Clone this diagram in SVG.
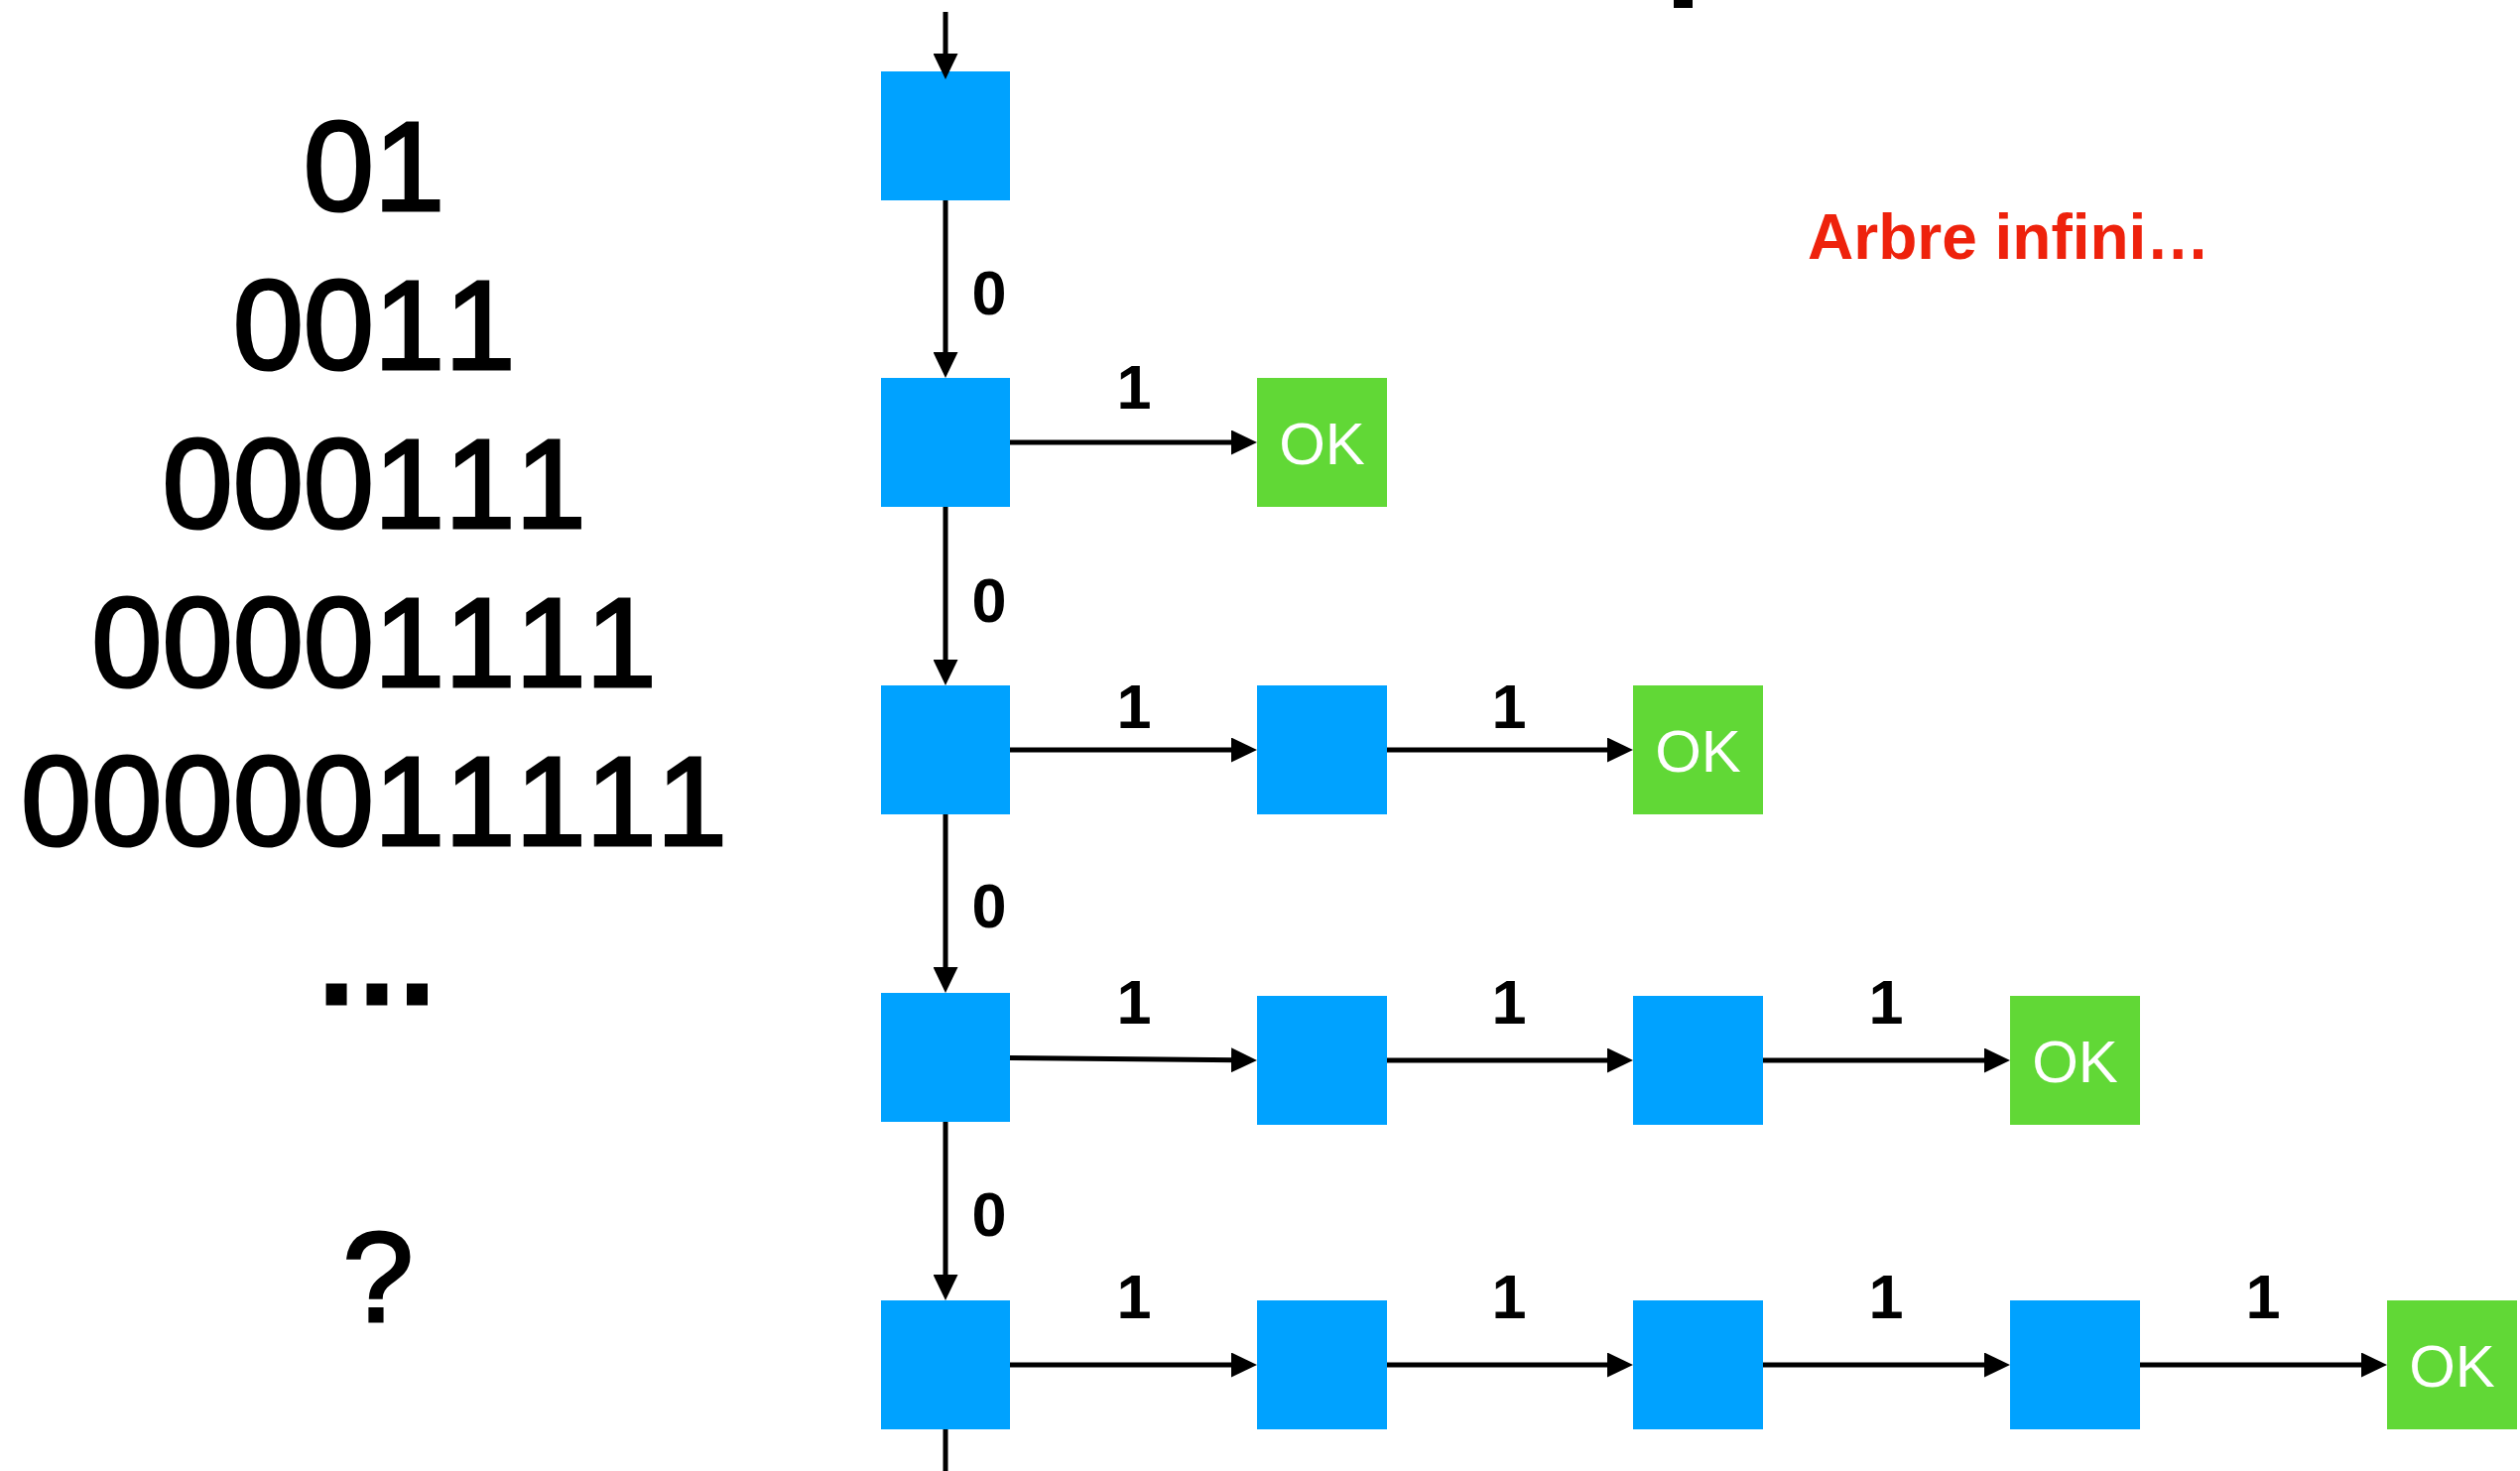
<svg xmlns="http://www.w3.org/2000/svg" width="2540" height="1483" viewBox="0 0 2540 1483">
  <style>
    text { font-kerning: none; }
    .state { fill: #00A2FF; }
    .ok { fill: #61D836; }
    .ok-text { font-family: "Liberation Sans", Arial, sans-serif; font-size: 60px; fill: #FFFFFF; text-anchor: middle; }
    .edge { stroke: #000000; stroke-width: 5; fill: none; }
    .edge-label { font-family: "Liberation Sans", Arial, sans-serif; font-size: 63px; font-weight: bold; fill: #000000; text-anchor: middle; }
    .word { font-family: "Liberation Sans", Arial, sans-serif; font-size: 128px; fill: #000000; stroke: #000000; stroke-width: 3; text-anchor: middle; }
    .note { font-family: "Liberation Sans", Arial, sans-serif; font-size: 64px; font-weight: bold; fill: #EE220C; }
  </style>
  <defs>
    <marker id="arrow" markerUnits="userSpaceOnUse" markerWidth="26" markerHeight="25" refX="6" refY="12.5" orient="auto">
      <path d="M0,0 L26,12.5 L0,25 Z" fill="#000000"/>
    </marker>
  </defs>

  <rect width="2540" height="1483" fill="#FFFFFF"/>

  <!-- cut-off mark at the top edge -->
  <rect x="1687" y="0" width="19" height="8" fill="#000000"/>

  <!-- words of the language -->
  <g id="words">
    <text class="word" x="377" y="212">01</text>
    <text class="word" x="377" y="372">0011</text>
    <text class="word" x="377" y="532">000111</text>
    <text class="word" x="377" y="692">00001111</text>
    <text class="word" x="377" y="852">0000011111</text>
    <text class="word" x="380" y="1012" font-weight="bold" stroke-width="1">…</text>
    <text class="word" x="381" y="1332" stroke-width="4">?</text>
  </g>

  <text id="note" class="note" x="1822" y="261">Arbre infini…</text>

  <!-- states -->
  <g id="s0"><rect class="state" x="888" y="72" width="130" height="130"/></g>

  <g id="s1"><rect class="state" x="888" y="381" width="130" height="130"/></g>
  <g id="ok1"><rect class="ok" x="1267" y="381" width="131" height="130"/><text class="ok-text" x="1332.5" y="468">OK</text></g>

  <g id="s2"><rect class="state" x="888" y="691" width="130" height="130"/></g>
  <g id="s2b"><rect class="state" x="1267" y="691" width="131" height="130"/></g>
  <g id="ok2"><rect class="ok" x="1646" y="691" width="131" height="130"/><text class="ok-text" x="1711.5" y="778">OK</text></g>

  <g id="s3"><rect class="state" x="888" y="1001" width="130" height="130"/></g>
  <g id="s3b"><rect class="state" x="1267" y="1004" width="131" height="130"/></g>
  <g id="s3c"><rect class="state" x="1646" y="1004" width="131" height="130"/></g>
  <g id="ok3"><rect class="ok" x="2026" y="1004" width="131" height="130"/><text class="ok-text" x="2091.5" y="1091">OK</text></g>

  <g id="s4"><rect class="state" x="888" y="1311" width="130" height="130"/></g>
  <g id="s4b"><rect class="state" x="1267" y="1311" width="131" height="130"/></g>
  <g id="s4c"><rect class="state" x="1646" y="1311" width="131" height="130"/></g>
  <g id="s4d"><rect class="state" x="2026" y="1311" width="131" height="130"/></g>
  <g id="ok4"><rect class="ok" x="2406" y="1311" width="131" height="130"/><text class="ok-text" x="2471.5" y="1398">OK</text></g>

  <!-- transitions -->
  <g id="edges">
    <!-- spine of 0-transitions -->
    <line class="edge" x1="953" y1="12" x2="953" y2="60" marker-end="url(#arrow)"/>
    <line class="edge" x1="953" y1="202" x2="953" y2="361" marker-end="url(#arrow)"/>
    <line class="edge" x1="953" y1="511" x2="953" y2="671" marker-end="url(#arrow)"/>
    <line class="edge" x1="953" y1="821" x2="953" y2="981" marker-end="url(#arrow)"/>
    <line class="edge" x1="953" y1="1131" x2="953" y2="1291" marker-end="url(#arrow)"/>
    <line class="edge" x1="953" y1="1441" x2="953" y2="1483"/>

    <!-- 1-transitions -->
    <line class="edge" x1="1018" y1="446" x2="1247" y2="446" marker-end="url(#arrow)"/>

    <line class="edge" x1="1018" y1="756" x2="1247" y2="756" marker-end="url(#arrow)"/>
    <line class="edge" x1="1398" y1="756" x2="1626" y2="756" marker-end="url(#arrow)"/>

    <line class="edge" x1="1018" y1="1066.5" x2="1247" y2="1068.8" marker-end="url(#arrow)"/>
    <line class="edge" x1="1398" y1="1069" x2="1626" y2="1069" marker-end="url(#arrow)"/>
    <line class="edge" x1="1777" y1="1069" x2="2006" y2="1069" marker-end="url(#arrow)"/>

    <line class="edge" x1="1018" y1="1376" x2="1247" y2="1376" marker-end="url(#arrow)"/>
    <line class="edge" x1="1398" y1="1376" x2="1626" y2="1376" marker-end="url(#arrow)"/>
    <line class="edge" x1="1777" y1="1376" x2="2006" y2="1376" marker-end="url(#arrow)"/>
    <line class="edge" x1="2157" y1="1376" x2="2386" y2="1376" marker-end="url(#arrow)"/>

    <!-- labels -->
    <text class="edge-label" x="997" y="317">0</text>
    <text class="edge-label" x="997" y="627">0</text>
    <text class="edge-label" x="997" y="935">0</text>
    <text class="edge-label" x="997" y="1246">0</text>

    <text class="edge-label" x="1143" y="412">1</text>

    <text class="edge-label" x="1143" y="734">1</text>
    <text class="edge-label" x="1521" y="734">1</text>

    <text class="edge-label" x="1143" y="1032">1</text>
    <text class="edge-label" x="1521" y="1032">1</text>
    <text class="edge-label" x="1901" y="1032">1</text>

    <text class="edge-label" x="1143" y="1329">1</text>
    <text class="edge-label" x="1521" y="1329">1</text>
    <text class="edge-label" x="1901" y="1329">1</text>
    <text class="edge-label" x="2281" y="1329">1</text>
  </g>
</svg>
